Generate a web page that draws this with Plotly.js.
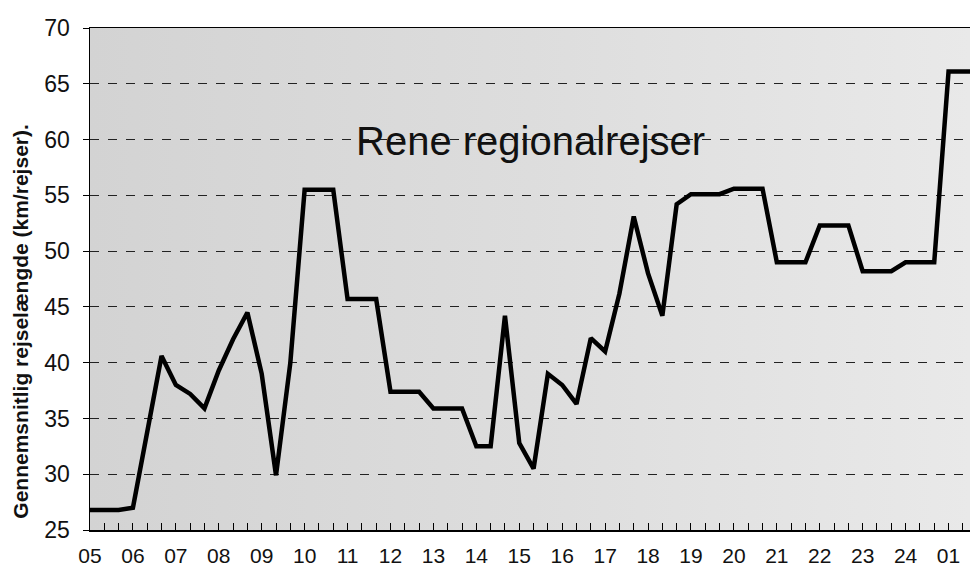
<!DOCTYPE html>
<html>
<head>
<meta charset="utf-8">
<script src="https://cdn.plot.ly/plotly-3.0.1.min.js"></script>
<style>html,body{margin:0;padding:0;background:#fff;}#chart{width:970px;height:571px;}</style>
</head>
<body>
<div id="chart"></div>
<script>
// Hour labels on the x axis (05 ... 24, 01)
const hourLabels = ["05","06","07","08","09","10","11","12","13","14","15","16","17","18","19","20","21","22","23","24","01"];
// Values every 20 minutes starting at 05:00 (km/rejse)
const avgTripLength = [
  26.8, 26.8, 26.8,   // 05
  27.0, 33.8, 40.6,   // 06
  38.0, 37.2, 35.9,   // 07
  39.3, 42.1, 44.5,   // 08
  39.0, 29.9, 40.0,   // 09
  55.5, 55.5, 55.5,   // 10
  45.7, 45.7, 45.7,   // 11
  37.4, 37.4, 37.4,   // 12
  35.9, 35.9, 35.9,   // 13
  32.5, 32.5, 44.2,   // 14
  32.8, 30.5, 39.0,   // 15
  38.0, 36.3, 42.2,   // 16
  41.0, 46.2, 53.1,   // 17
  48.0, 44.2, 54.2,   // 18
  55.1, 55.1, 55.1,   // 19
  55.6, 55.6, 55.6,   // 20
  49.0, 49.0, 49.0,   // 21
  52.3, 52.3, 52.3,   // 22
  48.2, 48.2, 48.2,   // 23
  49.0, 49.0, 49.0,   // 24
  66.1, 66.1, 66.1    // 01
];
const yTicks = [25, 30, 35, 40, 45, 50, 55, 60, 65, 70];
const chartTitle = "Rene regionalrejser";
const yTitle = "Gennemsnitlig rejselængde (km/rejser).";

const startHour = 5;
const stepsPerHour = 3;
const xVals = avgTripLength.map((_, i) => startHour + i / stepsPerHour);
const hourVals = hourLabels.map((_, i) => startHour + i);

const font = "Liberation Sans, Arial, sans-serif";

const bgSvg = "data:image/svg+xml;utf8," + encodeURIComponent(
  '<svg xmlns="http://www.w3.org/2000/svg" width="100" height="100" preserveAspectRatio="none">' +
  '<defs><linearGradient id="g" x1="0" y1="0" x2="1" y2="0">' +
  '<stop offset="0" stop-color="#d3d3d3"/><stop offset="0.5" stop-color="#dddddd"/><stop offset="1" stop-color="#e9e9e9"/>' +
  '</linearGradient></defs><rect width="100" height="100" fill="url(#g)"/></svg>');

const trace = {
  x: xVals,
  y: avgTripLength,
  type: "scatter",
  mode: "lines",
  line: {color: "#000", width: 4.5, shape: "linear"},
  hoverinfo: "x+y",
  showlegend: false
};

const layout = {
  width: 970,
  height: 571,
  margin: {l: 90, r: 0, t: 28, b: 41, pad: 0},
  paper_bgcolor: "#fff",
  plot_bgcolor: "rgba(0,0,0,0)",
  font: {family: font, color: "#111"},
  images: [{
    source: bgSvg, xref: "paper", yref: "paper", x: 0, y: 1, sizex: 1, sizey: 1,
    sizing: "stretch", xanchor: "left", yanchor: "top", layer: "below"
  }],
  xaxis: {
    range: [5, 25.5],
    tickmode: "array",
    tickvals: hourVals,
    ticktext: hourLabels,
    ticks: "inside",
    ticklen: 7,
    tickwidth: 1,
    tickcolor: "#000",
    minor: {dtick: 1 / stepsPerHour, tick0: startHour, ticks: "inside", ticklen: 7, tickwidth: 1, tickcolor: "#000", showgrid: false},
    tickfont: {family: font, size: 21, color: "#111"},
    ticklabelstandoff: 6,
    showgrid: false,
    zeroline: false,
    showline: true,
    linecolor: "#000",
    linewidth: 1.5,
    mirror: true
  },
  yaxis: {
    range: [25, 70],
    tickmode: "array",
    tickvals: yTicks,
    ticks: "outside",
    ticklen: 6,
    tickcolor: "#000",
    tickfont: {family: font, size: 23, color: "#111"},
    ticklabelstandoff: 8,
    showgrid: true,
    gridcolor: "#222",
    gridwidth: 1,
    griddash: "dash",
    zeroline: false,
    showline: true,
    linecolor: "#000",
    linewidth: 1.5
  },
  annotations: [
    {
      text: chartTitle, xref: "paper", yref: "paper",
      x: 0.5, y: 0.775, xanchor: "center", yanchor: "middle",
      showarrow: false, font: {family: font, size: 40, color: "#111"}
    },
    {
      text: "<b>" + yTitle + "</b>", xref: "paper", yref: "paper",
      x: -0.079, y: 0.416, xanchor: "center", yanchor: "middle", textangle: -90,
      showarrow: false, font: {family: font, size: 21, color: "#111"}
    }
  ]
};

Plotly.newPlot("chart", [trace], layout, {displayModeBar: false, staticPlot: true});
</script>
</body>
</html>
